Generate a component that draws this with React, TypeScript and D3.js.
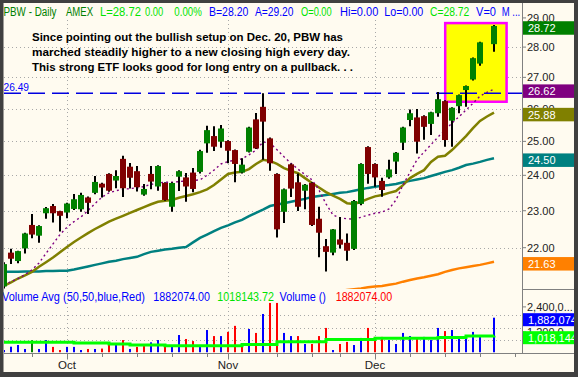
import React from 'react';
import * as d3 from 'd3';

const FONT = "'Liberation Sans', Arial, Helvetica, sans-serif";
const LIME = '#00E400';
const BLUE = '#0000FF';

// 71 daily slots, Sep 18 2007 .. Dec 26 2007 (slot 69 = Dec 25 holiday, empty)
const barOpen = [21.00,21.87,21.65,21.98,22.61,22.32,22.93,23.13,22.99,22.95,
  23.05,23.04,23.37,23.50,23.76,24.04,23.85,24.48,24.25,24.12,
  23.45,24.04,23.68,23.78,23.11,23.96,23.94,24.08,24.10,24.94,
  25.16,24.99,25.01,24.74,24.08,24.69,25.67,26.06,25.09,24.04,
  22.97,24.32,23.80,23.56,23.78,22.78,22.04,21.87,22.22,22.13,
  21.97,23.19,24.83,24.33,23.84,23.94,24.40,24.96,25.65,25.73,
  25.77,25.53,25.86,26.24,25.63,26.08,26.59,26.93,27.45,null,
  28.10];
const barHigh = [21.62,21.97,21.92,22.40,22.91,22.60,23.10,23.19,23.00,23.22,
  23.47,23.50,23.40,23.98,23.79,24.06,24.15,24.57,24.36,24.27,
  23.75,24.27,24.29,23.80,23.80,24.15,24.07,24.21,24.75,25.47,
  25.46,25.50,25.03,24.76,24.50,25.44,25.87,26.49,25.12,24.06,
  23.62,24.34,24.05,23.75,23.80,23.11,22.23,22.50,22.83,22.38,
  23.30,24.35,24.85,24.35,23.93,24.45,24.68,25.44,25.98,25.99,
  25.80,25.91,26.53,26.27,26.05,26.45,26.74,27.65,28.18,null,
  28.75];
const barLow = [20.95,21.57,21.59,21.85,22.25,22.13,22.78,22.68,22.43,22.79,
  23.02,22.97,22.91,23.46,23.37,23.53,23.63,23.38,23.62,23.54,
  23.42,23.60,23.56,23.28,22.97,23.55,23.25,23.52,24.05,24.66,
  24.71,24.81,24.35,23.80,24.05,24.67,24.77,24.45,24.13,22.27,
  22.66,23.38,22.99,23.04,22.58,21.75,21.38,21.80,21.98,21.66,
  21.94,23.15,23.76,23.67,23.39,23.90,24.04,24.74,25.46,24.64,
  25.05,25.19,25.75,24.84,24.84,25.86,26.06,26.90,27.38,null,
  27.84];
const barClose = [21.57,21.71,21.91,22.38,22.35,22.58,23.07,22.93,22.86,23.20,
  23.32,23.44,23.22,23.81,23.65,23.56,23.98,23.63,23.93,23.66,
  23.61,23.82,24.27,23.30,23.78,24.12,23.68,23.61,24.71,25.34,
  24.84,25.39,24.72,24.33,24.31,25.42,24.79,25.60,24.35,22.49,
  23.60,23.62,23.11,23.73,22.61,22.40,21.89,22.49,22.08,21.92,
  23.27,24.33,24.04,23.94,23.58,24.17,24.66,25.42,25.86,24.99,
  25.44,25.89,26.30,25.04,26.03,26.43,26.72,27.63,28.16,null,
  28.72];

// volume in millions of shares and its colour code (B up, R down, G unchanged)
const volumeM = [0.33,0.49,0.57,0.38,0.80,0.38,0.81,0.48,0.33,0.48,
  0.48,0.33,0.38,0.38,0.40,0.57,0.57,0.81,0.38,0.48,
  0.52,0.70,0.81,0.57,0.48,1.05,0.86,0.76,0.57,1.29,
  1.00,1.00,1.20,1.49,0.62,1.34,1.15,2.06,2.59,2.59,
  1.15,1.00,1.00,0.62,0.62,1.00,1.39,0.33,0.62,0.72,
  0.57,0.91,1.39,0.96,0.96,0.81,0.62,1.15,1.00,0.91,
  0.96,0.81,1.39,1.24,1.29,1.00,0.86,1.20,1.05,null,
  1.882];
const volumeTone = ['B','B','B','B','G','B','B','R','R','B',
  'B','B','R','B','R','R','B','R','B','R',
  'R','B','B','R','B','B','R','R','B','B',
  'R','B','R','R','R','B','R','B','R','R',
  'B','B','R','B','R','R','R','B','R','R',
  'B','B','R','R','R','B','B','B','B','R',
  'B','B','B','R','B','B','B','B','B','',
  'B'];
const volumeAvgM = [0.70,0.70,0.70,0.70,0.70,0.70,0.70,0.70,0.70,0.70,
  0.67,0.67,0.67,0.67,0.67,0.62,0.62,0.62,0.57,0.57,
  0.57,0.57,0.57,0.54,0.54,0.54,0.54,0.54,0.54,0.54,
  0.54,0.54,0.54,0.54,0.59,0.59,0.59,0.59,0.59,0.73,
  0.73,0.73,0.73,0.73,0.73,0.73,0.84,0.84,0.84,0.84,
  0.84,0.84,0.84,0.89,0.89,0.89,0.89,0.89,0.89,0.89,
  0.89,0.89,0.93,0.93,0.93,0.93,1.00,1.00,1.00,1.00,
  1.018];

// moving averages
const ma10 = [21.03,21.12,21.20,21.30,21.42,21.60,21.85,22.10,22.35,22.55,
  22.70,22.83,23.00,23.20,23.38,23.50,23.56,23.60,23.62,23.64,
  23.68,23.74,23.78,23.80,23.80,23.82,23.84,23.85,23.87,24.00,
  24.15,24.33,24.40,24.44,24.48,24.60,24.74,24.98,24.95,24.75,
  24.54,24.35,24.18,24.02,23.87,23.58,23.19,22.88,22.80,22.78,
  22.77,22.82,22.88,22.93,22.96,23.05,23.30,23.72,24.09,24.45,
  24.68,24.90,25.13,25.34,25.56,25.75,25.96,26.17,26.40,26.52,
  26.62];
const ma20 = [21.01,21.10,21.20,21.28,21.37,21.50,21.62,21.74,21.88,22.02,
  22.15,22.27,22.39,22.50,22.60,22.70,22.78,22.86,22.94,23.02,
  23.10,23.18,23.25,23.28,23.30,23.36,23.41,23.46,23.52,23.60,
  23.72,23.88,24.04,24.08,24.10,24.18,24.33,24.45,24.42,24.33,
  24.21,24.13,24.06,23.92,23.78,23.65,23.52,23.42,23.33,23.21,
  23.19,23.25,23.33,23.40,23.44,23.50,23.55,23.72,23.92,24.04,
  24.15,24.39,24.54,24.57,24.74,24.95,25.16,25.40,25.62,25.76,
  25.88];
const ma50 = [21.37,21.37,21.37,21.38,21.38,21.38,21.39,21.39,21.40,21.40,
  21.43,21.47,21.51,21.55,21.59,21.63,21.66,21.70,21.73,21.76,
  21.83,21.89,21.92,21.95,21.97,22.00,22.02,22.14,22.26,22.35,
  22.44,22.53,22.60,22.68,22.75,22.85,22.94,23.03,23.13,23.17,
  23.21,23.25,23.29,23.33,23.38,23.41,23.44,23.47,23.50,23.52,
  23.56,23.60,23.64,23.67,23.70,23.72,23.75,23.80,23.84,23.88,
  23.92,23.98,24.04,24.10,24.15,24.22,24.30,24.34,24.39,24.45,
  24.50];
const ma200 = [null,null,null,null,null,null,null,null,null,null,
  null,null,null,null,null,null,null,null,null,null,
  null,null,null,null,null,null,null,null,null,null,
  null,null,null,null,null,null,null,null,null,null,
  null,null,null,null,null,null,null,null,20.88,20.91,
  20.93,20.95,20.98,21.00,21.01,21.04,21.07,21.12,21.16,21.20,
  21.23,21.27,21.31,21.37,21.42,21.46,21.49,21.52,21.55,21.59,
  21.63];

const priceTicks = [22, 23, 24, 25, 26, 27, 28, 29];
const priceGrid = [22, 23, 24, 25, 26, 27, 28];
const resistance = 26.49;
const volumeTicks = [1.2e6, 1.8e6, 2.4e6];
const volumeGrid = [0.8e6, 1.4e6, 2.0e6];
const monthSlots = [9, 32, 53];
const monthLabels = ['Oct', 'Nov', 'Dec'];
const weekSlots = [4, 14, 19, 24, 29, 39, 44, 48, 58, 63, 68, 73];
const highlightBox = { from: 63.03, to: 71.8, low: 26.22, high: 28.82 };

const lastBadges = [
  { v: 28.72, label: '28.72', color: '#008000' },
  { v: 26.62, label: '26.62', color: '#800080' },
  { v: 25.88, label: '25.88', color: '#808000' },
  { v: 24.50, label: '24.50', color: '#008080' },
  { v: 21.63, label: '21.63', color: '#FF8000' },
];
const volBadges = [
  { v: 1882074, label: '1,882,074', color: '#0000FF' },
  { v: 1018144, label: '1,018,144', color: '#00FF00' },
];

const noteLines = [
  'Since pointing out the bullish setup on Dec. 20, PBW has',
  'marched steadily higher to a new closing high every day.',
  'This strong ETF looks good for long entry on a pullback. . .',
];

const headerParts = [
  { t: 'PBW - Daily', x: 3.5, w: 53, c: '#008000' },
  { t: 'AMEX', x: 66, w: 27, c: '#008000' },
  { t: 'L=28.72', x: 100, w: 41, c: LIME },
  { t: '0.00', x: 145, w: 18.3, c: LIME },
  { t: '0.00%', x: 174.3, w: 27.5, c: LIME },
  { t: 'B=28.20', x: 209, w: 39.3, c: BLUE },
  { t: 'A=29.20', x: 255, w: 38.5, c: BLUE },
  { t: 'O=0.00', x: 301, w: 30.7, c: LIME },
  { t: 'Hi=0.00', x: 340, w: 38.3, c: BLUE },
  { t: 'Lo=0.00', x: 384.3, w: 39, c: BLUE },
  { t: 'C=28.72', x: 430, w: 39.3, c: LIME },
  { t: 'V=0', x: 476, w: 20, c: BLUE },
  { t: 'M ...', x: 501.7, w: 18.5, c: BLUE },
];
const volHeaderParts = [
  { t: 'Volume Avg (50,50,blue,Red)', x: 2, w: 143, c: BLUE },
  { t: '1882074.00', x: 153.3, w: 56.7, c: BLUE },
  { t: '1018143.72', x: 217.3, w: 56.7, c: LIME },
  { t: 'Volume ()', x: 279.5, w: 46.5, c: BLUE },
  { t: '1882074.00', x: 335.7, w: 56.6, c: '#FF0000' },
];

const toneColor: Record<string, string> = { B: '#0000FF', R: '#FF0000', G: '#008000' };

export default function App() {
  const PL = 4, PR = 522, PT = 20, PB = 289;
  const VB = 352.5;
  const xs = d3.scaleLinear().domain([0, 74]).range([PL, PR]);
  const yp = d3.scaleLog().domain([22, 28]).range([247.7, 47.1]);
  const yv = d3.scaleLinear().domain([0, 2.4e6]).range([356.9, 306.9]);

  const maPath = (arr: (number | null)[]) =>
    d3.line<number | null>()
      .defined((d) => d != null)
      .x((_, i) => xs(i))
      .y((d) => yp(d as number))(arr) || '';

  const volAvgPath = d3.line<number>()
    .curve(d3.curveStepAfter)
    .x((_, i) => xs(i))
    .y((d) => yv(d * 1e6))(volumeAvgM) || '';

  const grey = '#808080';
  const dot = '#A8A8A8';

  return (
    <svg width={578} height={377} style={{ position: 'absolute', left: 0, top: 0, display: 'block' }}
      fontFamily={FONT}>
      <defs>
        <clipPath id="pclip"><rect x={PL} y={PT} width={PR - PL} height={PB - PT} /></clipPath>
        <clipPath id="vclip"><rect x={PL} y={290} width={PR - PL} height={VB - 290} /></clipPath>
      </defs>
      <rect x={0} y={0} width={578} height={377} fill="#FFFBF0" />

      {/* header */}
      {headerParts.map((p, i) => (
        <text key={'h' + i} x={p.x} y={16.3} fontSize={12} fill={p.c} textLength={p.w}
          lengthAdjust="spacingAndGlyphs">{p.t}</text>
      ))}

      {/* price grid */}
      <g clipPath="url(#pclip)">
        {priceGrid.map((v) => (
          <line key={'pg' + v} x1={PL} x2={PR} y1={Math.round(yp(v)) + 0.5} y2={Math.round(yp(v)) + 0.5}
            stroke={dot} strokeDasharray="1,3" />
        ))}
        {monthSlots.map((s) => (
          <line key={'pm' + s} x1={Math.round(xs(s)) + 0.5} x2={Math.round(xs(s)) + 0.5} y1={PT} y2={PB}
            stroke={dot} strokeDasharray="1,3" />
        ))}
        <rect x={xs(highlightBox.from)} y={yp(highlightBox.high)}
          width={xs(highlightBox.to) - xs(highlightBox.from)}
          height={yp(highlightBox.low) - yp(highlightBox.high)}
          fill="#FFFF00" stroke="#FF00FF" strokeWidth={2.5} />
        <line x1={PL} x2={PR} y1={yp(resistance)} y2={yp(resistance)} stroke="#0000E0" strokeWidth={1.5}
          strokeDasharray="17,7" />
        <path d={maPath(ma200)} fill="none" stroke="#FF8000" strokeWidth={2.5} />
        <path d={maPath(ma50)} fill="none" stroke="#008080" strokeWidth={2.5} />
        <path d={maPath(ma20)} fill="none" stroke="#808000" strokeWidth={2.5} />
        <path d={maPath(ma10)} fill="none" stroke="#800080" strokeWidth={1.4} strokeDasharray="2,3" />
        {barOpen.map((o, i) => {
          if (o == null) return null;
          const c = barClose[i] as number;
          const h = barHigh[i] as number;
          const l = barLow[i] as number;
          const cx = xs(i);
          const top = yp(Math.max(o, c));
          const bot = yp(Math.min(o, c));
          const up = c >= o;
          return (
            <g key={'c' + i}>
              <line x1={cx} x2={cx} y1={yp(h)} y2={yp(l)} stroke="#000" strokeWidth={2} />
              <rect x={cx - 3} y={top} width={6} height={Math.max(1.5, bot - top)}
                fill={up ? '#008000' : '#800000'} />
            </g>
          );
        })}
      </g>
      <text x={3.5} y={90.5} fontSize={11} fill={BLUE} textLength={25.5} lengthAdjust="spacingAndGlyphs">
        {resistance.toFixed(2)}
      </text>

      {/* annotation */}
      {noteLines.map((t, i) => (
        <text key={'n' + i} x={32} y={41.3 + i * 14.7} fontSize={11.5} fontWeight="bold" fill="#000"
          textLength={[311, 318, 321][i]} lengthAdjust="spacingAndGlyphs">{t}</text>
      ))}

      {/* volume panel */}
      {volHeaderParts.map((p, i) => (
        <text key={'vh' + i} x={p.x} y={301} fontSize={12} fill={p.c} textLength={p.w}
          lengthAdjust="spacingAndGlyphs">{p.t}</text>
      ))}
      <g clipPath="url(#vclip)">
        {volumeGrid.map((v) => (
          <line key={'vg' + v} x1={PL} x2={PR} y1={Math.round(yv(v)) + 0.5} y2={Math.round(yv(v)) + 0.5}
            stroke={dot} strokeDasharray="1,3" />
        ))}
        {monthSlots.map((s) => (
          <line key={'vm' + s} x1={Math.round(xs(s)) + 0.5} x2={Math.round(xs(s)) + 0.5} y1={303} y2={VB}
            stroke={dot} strokeDasharray="1,3" />
        ))}
        {volumeM.map((v, i) => {
          if (v == null) return null;
          const top = yv(v * 1e6);
          return <rect key={'v' + i} x={xs(i) - 1} y={top} width={2} height={VB - top}
            fill={toneColor[volumeTone[i]]} />;
        })}
        <path d={volAvgPath} fill="none" stroke="#00FF00" strokeWidth={3} />
      </g>

      {/* x axis */}
      <line x1={PL} x2={574} y1={353.5} y2={353.5} stroke={grey} />
      {weekSlots.map((s) => (
        <line key={'wt' + s} x1={Math.round(xs(s)) + 0.5} x2={Math.round(xs(s)) + 0.5} y1={353.5} y2={357}
          stroke={grey} />
      ))}
      {monthSlots.map((s, k) => (
        <g key={'mt' + s}>
          <line x1={Math.round(xs(s)) + 0.5} x2={Math.round(xs(s)) + 0.5} y1={353.5} y2={359.5} stroke={grey} />
          <text x={xs(s)} y={369} fontSize={11.5} fill="#222" textAnchor="middle">{monthLabels[k]}</text>
        </g>
      ))}

      {/* right price axis */}
      <line x1={PR + 0.5} x2={PR + 0.5} y1={3} y2={353.5} stroke={grey} />
      <line x1={PR} x2={574} y1={289.5} y2={289.5} stroke={grey} />
      {priceTicks.map((v) => (
        <g key={'pt' + v}>
          <line x1={PR} x2={PR + 4} y1={yp(v)} y2={yp(v)} stroke={grey} />
          <text x={527} y={yp(v) + 4} fontSize={11} fill="#222">{v.toFixed(2)}</text>
        </g>
      ))}
      {lastBadges.map((b) => (
        <g key={'b' + b.label}>
          <rect x={PR + 1} y={yp(b.v) + 2 - 6.75} width={52} height={13.5} fill={b.color} />
          <text x={528} y={yp(b.v) + 2 + 4} fontSize={11} fill="#FFF">{b.label}</text>
        </g>
      ))}
      {volumeTicks.map((v) => (
        <g key={'vt' + v}>
          <line x1={PR} x2={PR + 4} y1={yv(v)} y2={yv(v)} stroke={grey} />
          <text x={527} y={yv(v) + 4} fontSize={11} fill="#222">{d3.format(',')(v).slice(0, 7) + '...'}</text>
        </g>
      ))}
      {volBadges.map((b) => (
        <g key={'vb' + b.label}>
          <rect x={PR + 1} y={yv(b.v) + 2 - 6.5} width={52} height={13} fill={b.color} />
          <text x={528} y={yv(b.v) + 2 + 4} fontSize={11} fill="#FFF">{b.label}</text>
        </g>
      ))}

      {/* dark frame */}
      <rect x={0} y={0} width={578} height={3} fill="#404040" />
      <rect x={0} y={0} width={3.5} height={377} fill="#404040" />
      <rect x={574} y={0} width={4} height={377} fill="#404040" />
      <rect x={0} y={372} width={578} height={5} fill="#404040" />
    </svg>
  );
}
